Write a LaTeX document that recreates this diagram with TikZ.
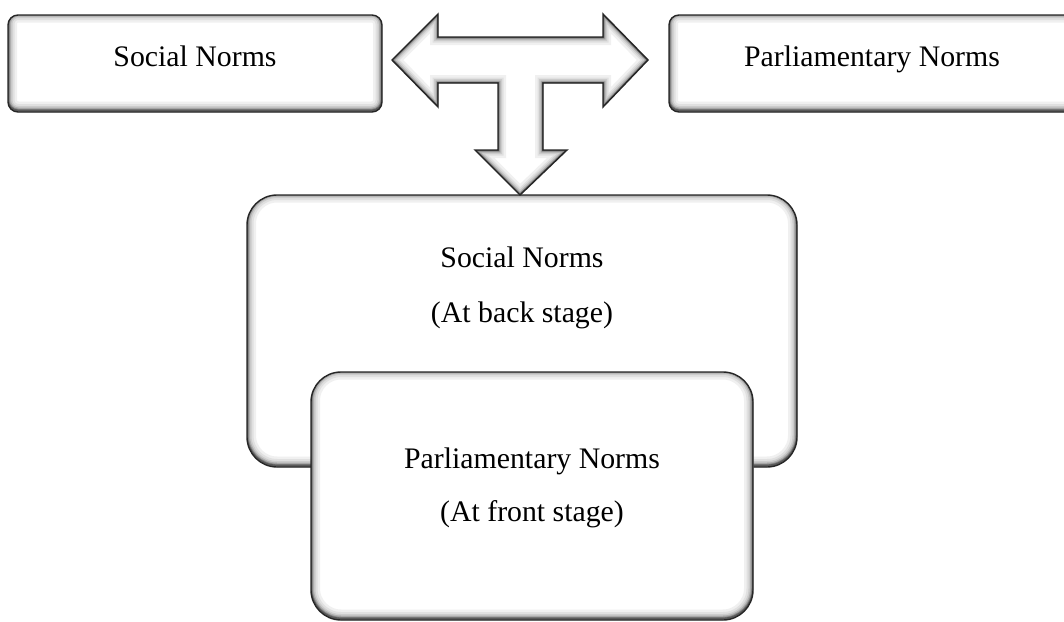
\documentclass[tikz,border=0pt]{standalone}
\usepackage{fontspec}
\setmainfont{Liberation Serif}
\begin{document}
\begin{tikzpicture}[x=1pt,y=-1pt,
  lbl/.style={font=\fontsize{29.8}{36}\selectfont, inner sep=0pt, anchor=base},
  bevel/.style={draw=black!85, line width=1.4pt, fill=white, inner sep=0pt,
    rounded corners=#1,
    path picture={
      \foreach \w/\c in {18/6,13/12,9/20,6/32,3.5/48,1.8/65}{
        \draw[line width=\w pt, black!\c, rounded corners=#1]
          ([yshift=1.5pt]path picture bounding box.south west) rectangle
          ([yshift=1.5pt]path picture bounding box.north east);
      }}},
  bevelarrow/.style={draw=black!85, line width=1.4pt, fill=white, line join=miter}
]
\useasboundingbox (0,0) rectangle (1064,621);

% top row
\node[bevel=10pt, minimum width=374pt, minimum height=97pt] (social) at (195,63.5) {};
\node[lbl] (socialtxt) at (195,66.5) {Social Norms};
\node[bevel=10pt, minimum width=406pt, minimum height=97pt] (parl) at (872,63.5) {};
\node[lbl] (parltxt) at (872,66.5) {Parliamentary Norms};

% back stage and front stage
\node[bevel=30pt, minimum width=550pt, minimum height=272pt] (back) at (522,331) {};
\node[lbl] (backtxt1) at (522,267) {Social Norms};
\node[lbl] (backtxt2) at (522,322) {(At back stage)};
\node[bevel=30pt, minimum width=442pt, minimum height=248pt] (front) at (532,496) {};
\node[lbl] (fronttxt1) at (532,468) {Parliamentary Norms};
\node[lbl] (fronttxt2) at (532,521) {(At front stage)};

% T-shaped three-way arrow
\def\tarrow{(392,60) -- (438,14) -- (438,37) -- (603,37) -- (603,14) -- (648,60)
  -- (603,107) -- (603,83) -- (543,83) -- (543,150) -- (567,150) -- (520,195)
  -- (475,150) -- (498,150) -- (498,83) -- (438,83) -- (438,107) -- cycle}
\draw[bevelarrow, path picture={
    \foreach \w/\c in {16/6,11/12,8/20,5/32,3/48,1.6/65}{
      \draw[line width=\w pt, black!\c, line join=miter] \tarrow;
    }}] \tarrow;
\end{tikzpicture}
\end{document}
